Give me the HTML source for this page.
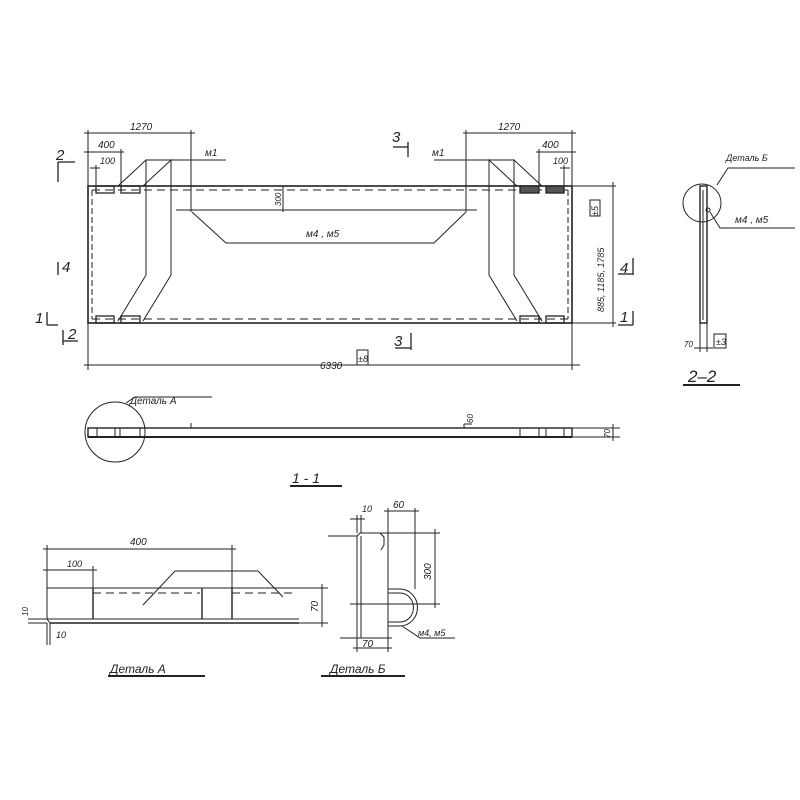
<!DOCTYPE html>
<html><head><meta charset="utf-8"><style>
html,body{margin:0;padding:0;background:#fff;}
svg{display:block;}
text{font-family:"Liberation Sans",sans-serif;font-style:italic;fill:#222;}
</style></head><body>
<svg width="800" height="800" viewBox="0 0 800 800" xmlns="http://www.w3.org/2000/svg">
<g stroke="#222" fill="none" stroke-width="1">
<!-- main plan -->
<rect x="88" y="186" width="484" height="137" stroke-width="1.6"/>
<line x1="92" y1="190" x2="568" y2="190" stroke-dasharray="8,5"/>
<line x1="92" y1="319" x2="568" y2="319" stroke-dasharray="8,5"/>
<line x1="92" y1="190" x2="92" y2="319" stroke-dasharray="6,3"/>
<line x1="568" y1="190" x2="568" y2="319" stroke-dasharray="6,3"/>
<!-- plates -->
<g stroke-width="1.3">
<rect x="96" y="186" width="18" height="7"/><rect x="121" y="186" width="19" height="7"/>
<rect x="96" y="316" width="18" height="7"/><rect x="121" y="316" width="19" height="7"/>
<rect x="520" y="186" width="19" height="7" fill="#555"/><rect x="546" y="186" width="18" height="7" fill="#555"/>
<rect x="520" y="316" width="19" height="7"/><rect x="546" y="316" width="18" height="7"/>
</g>
<!-- straps -->
<polyline points="118,186 146,160 146,275 118,321"/>
<polyline points="143,186 171,160 171,275 143,321"/>
<line x1="146" y1="160" x2="226" y2="160"/>
<polyline points="542,186 514,160 514,275 542,321"/>
<polyline points="517,186 489,160 489,275 517,321"/>
<line x1="514" y1="160" x2="434" y2="160"/>
<!-- m4 m5 leader -->
<line x1="176" y1="210" x2="477" y2="210"/>
<polyline points="192,212 226,243 434,243 466,212"/>
<line x1="191" y1="130" x2="191" y2="212"/>
<line x1="466" y1="130" x2="466" y2="212"/>
<line x1="283" y1="186" x2="283" y2="212"/>
<!-- dims top left -->
<line x1="88" y1="130" x2="88" y2="186"/>
<line x1="84" y1="133" x2="195" y2="133"/>
<line x1="84" y1="152" x2="124" y2="152"/>
<line x1="121" y1="149" x2="121" y2="186"/>
<line x1="90" y1="168" x2="100" y2="168"/>
<line x1="96" y1="165" x2="96" y2="186"/>
<line x1="572" y1="130" x2="572" y2="186"/>
<line x1="463" y1="133" x2="576" y2="133"/>
<line x1="536" y1="152" x2="576" y2="152"/>
<line x1="539" y1="149" x2="539" y2="186"/>
<line x1="560" y1="168" x2="570" y2="168"/>
<line x1="564" y1="165" x2="564" y2="186"/>
<!-- right dim -->
<line x1="572" y1="186" x2="616" y2="186"/>
<line x1="572" y1="323" x2="616" y2="323"/>
<line x1="613" y1="182" x2="613" y2="327"/>
<rect x="590" y="200" width="10" height="16"/>
<!-- bottom dim -->
<line x1="88" y1="323" x2="88" y2="370"/>
<line x1="572" y1="323" x2="572" y2="370"/>
<line x1="84" y1="365" x2="580" y2="365"/>
<rect x="357" y="350" width="11" height="15"/>
<!-- section marks -->
<g stroke-width="1.3">
<line x1="58" y1="162" x2="58" y2="182"/><line x1="58" y1="162" x2="75" y2="162"/>
<line x1="58" y1="262" x2="58" y2="275"/>
<line x1="47" y1="325" x2="58" y2="325"/><line x1="47" y1="312" x2="47" y2="325"/>
<line x1="63" y1="330" x2="63" y2="345"/><line x1="63" y1="341" x2="78" y2="341"/>
<line x1="408" y1="142" x2="408" y2="157"/><line x1="393" y1="147" x2="408" y2="147"/>
<line x1="411" y1="333" x2="411" y2="350"/><line x1="395" y1="348" x2="411" y2="348"/>
<line x1="633" y1="258" x2="633" y2="275"/><line x1="618" y1="274" x2="633" y2="274"/>
<line x1="633" y1="311" x2="633" y2="325"/><line x1="618" y1="325" x2="633" y2="325"/>
</g>
<!-- section 1-1 -->
<rect x="88" y="428" width="484" height="9" stroke-width="1.4"/>
<line x1="88" y1="437" x2="572" y2="437" stroke-width="2"/>
<line x1="97" y1="428" x2="97" y2="437"/><line x1="115" y1="428" x2="115" y2="437"/>
<line x1="120" y1="428" x2="120" y2="437"/><line x1="140" y1="428" x2="140" y2="437"/>
<line x1="520" y1="428" x2="520" y2="437"/><line x1="539" y1="428" x2="539" y2="437"/>
<line x1="546" y1="428" x2="546" y2="437"/><line x1="564" y1="428" x2="564" y2="437"/>
<line x1="191" y1="423" x2="191" y2="428"/>
<line x1="464" y1="424" x2="472" y2="424"/><line x1="464" y1="424" x2="464" y2="428"/>
<line x1="472" y1="428" x2="498" y2="428"/>
<circle cx="115" cy="432" r="30"/>
<polyline points="126,403 135,397 212,397"/>
<line x1="572" y1="428" x2="620" y2="428"/><line x1="572" y1="437" x2="620" y2="437"/>
<line x1="613" y1="424" x2="613" y2="441"/>
<line x1="290" y1="486" x2="342" y2="486" stroke-width="2"/>
<!-- 2-2 -->
<rect x="700" y="186" width="7" height="137" stroke-width="1.4"/>
<line x1="703" y1="190" x2="703" y2="320"/>
<circle cx="702" cy="203" r="19"/>
<polyline points="717,185 728,168 795,168"/>
<circle cx="708" cy="210" r="2"/>
<polyline points="710,212 720,228 795,228"/>
<line x1="700" y1="323" x2="700" y2="352"/><line x1="707" y1="323" x2="707" y2="352"/>
<line x1="694" y1="348" x2="713" y2="348"/>
<rect x="714" y="334" width="12" height="14"/>
<line x1="683" y1="385" x2="740" y2="385" stroke-width="2"/>
<!-- Detail A -->
<polyline points="47,619 47,588 299,588"/>
<line x1="47" y1="619" x2="299" y2="619"/>
<line x1="50" y1="623" x2="299" y2="623" stroke-width="1.5"/>
<line x1="47" y1="619" x2="50" y2="623"/>
<line x1="93" y1="588" x2="93" y2="619" stroke-width="1.4"/>
<line x1="202" y1="588" x2="202" y2="619" stroke-width="1.4"/>
<line x1="232" y1="588" x2="232" y2="619" stroke-width="1.4"/>
<line x1="93" y1="593" x2="200" y2="593" stroke-dasharray="8,5"/>
<line x1="232" y1="593" x2="296" y2="593" stroke-dasharray="8,5"/>
<polyline points="143,605 175,571 258,571 283,597"/>
<line x1="47" y1="545" x2="47" y2="588"/><line x1="232" y1="545" x2="232" y2="588"/>
<line x1="43" y1="549" x2="236" y2="549"/>
<line x1="93" y1="566" x2="93" y2="588"/>
<line x1="43" y1="570" x2="97" y2="570"/>
<line x1="299" y1="588" x2="328" y2="588"/><line x1="299" y1="623" x2="328" y2="623"/>
<line x1="322" y1="584" x2="322" y2="627"/>
<line x1="28" y1="619" x2="47" y2="619"/><line x1="28" y1="623" x2="47" y2="623"/>
<line x1="47" y1="623" x2="47" y2="645"/><line x1="50" y1="623" x2="50" y2="645"/>
<line x1="108" y1="676" x2="205" y2="676" stroke-width="2"/>
<!-- Detail B -->
<polyline points="357,638 357,536 360,533 388,533 388,638"/>
<line x1="361" y1="536" x2="361" y2="638"/>
<polyline points="380,533 384,537 384,545 381,550"/>
<path d="M388,589 L400,589 A17,18 0 0 1 400,626 L388,626"/>
<path d="M388,593 L400,593 A13,14 0 0 1 400,622 L388,622"/>
<line x1="340" y1="638" x2="392" y2="638"/>
<line x1="357" y1="638" x2="357" y2="652"/><line x1="388" y1="638" x2="388" y2="652"/>
<line x1="353" y1="648" x2="392" y2="648"/>
<line x1="357" y1="515" x2="357" y2="533"/><line x1="361" y1="515" x2="361" y2="533"/>
<line x1="350" y1="519" x2="365" y2="519"/>
<line x1="388" y1="508" x2="388" y2="533"/><line x1="415" y1="508" x2="415" y2="589"/>
<line x1="384" y1="511" x2="419" y2="511"/>
<line x1="388" y1="533" x2="440" y2="533"/>
<line x1="350" y1="604" x2="440" y2="604"/>
<line x1="435" y1="529" x2="435" y2="608"/>
<line x1="328" y1="536" x2="357" y2="536"/>
<polyline points="402,626 420,638 432,638"/>
<line x1="432" y1="638" x2="455" y2="638"/>
<line x1="321" y1="676" x2="405" y2="676" stroke-width="2"/>
</g>
<g font-size="10">
<text x="130" y="130">1270</text>
<text x="498" y="130">1270</text>
<text x="98" y="148">400</text>
<text x="542" y="148">400</text>
<text x="100" y="164" font-size="9">100</text>
<text x="553" y="164" font-size="9">100</text>
<text x="205" y="156">м1</text>
<text x="432" y="156">м1</text>
<text x="306" y="237">м4 ,  м5</text>
<text x="320" y="369">6330</text>
<text x="358" y="362" font-size="9">±8</text>
<text x="281" y="206" font-size="8" transform="rotate(-90 281 206)">300</text>
<text x="604" y="312" font-size="9" transform="rotate(-90 604 312)">885, 1185, 1785</text>
<text x="598" y="216" font-size="9" transform="rotate(-90 598 216)">±5</text>
<text x="130" y="404">Деталь  А</text>
<text x="473" y="423" font-size="8" transform="rotate(-90 473 423)">60</text>
<text x="610" y="438" font-size="8" transform="rotate(-90 610 438)">70</text>
<text x="726" y="161" font-size="9">Деталь  Б</text>
<text x="735" y="223">м4 ,  м5</text>
<text x="684" y="347" font-size="8">70</text>
<text x="716" y="345" font-size="9">±3</text>
<text x="130" y="545">400</text>
<text x="67" y="567" font-size="9">100</text>
<text x="56" y="638" font-size="9">10</text>
<text x="28" y="616" font-size="8" transform="rotate(-90 28 616)">10</text>
<text x="318" y="612" font-size="10" transform="rotate(-90 318 612)">70</text>
<text x="362" y="512" font-size="9">10</text>
<text x="393" y="508">60</text>
<text x="431" y="580" transform="rotate(-90 431 580)">300</text>
<text x="362" y="647">70</text>
<text x="418" y="636" font-size="9">м4, м5</text>
<text x="110" y="673" font-size="12">Деталь  А</text>
<text x="330" y="673" font-size="12">Деталь  Б</text>
</g>
<g font-size="15" font-style="normal">
<text x="56" y="160">2</text>
<text x="62" y="272">4</text>
<text x="35" y="323">1</text>
<text x="68" y="339">2</text>
<text x="392" y="142">3</text>
<text x="394" y="346">3</text>
<text x="620" y="273">4</text>
<text x="620" y="322">1</text>
<text x="292" y="483" font-size="14">1 - 1</text>
<text x="688" y="382" font-size="17">2–2</text>
</g>
</svg>
</body></html>
